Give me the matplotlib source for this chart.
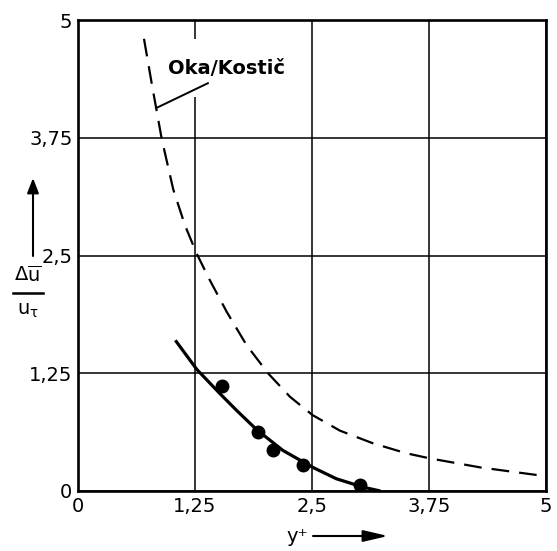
import matplotlib
matplotlib.use("Agg")
import matplotlib.pyplot as plt
from matplotlib.lines import Line2D

# ---- data ----
oka_x = [0.705, 0.787, 0.894, 1.018, 1.143, 1.268, 1.41, 1.59, 1.80, 2.03, 2.265,
         2.507, 2.80, 3.155, 3.51, 3.76, 4.30, 4.90]
oka_y = [4.80, 4.33, 3.74, 3.20, 2.82, 2.52, 2.235, 1.90, 1.55, 1.25, 1.00,
         0.805, 0.64, 0.505, 0.40, 0.346, 0.25, 0.17]

fit_x = [1.04, 1.27, 1.52, 1.70, 1.91, 2.19, 2.51, 2.76, 3.05, 3.23]
fit_y = [1.60, 1.29, 1.03, 0.85, 0.65, 0.43, 0.25, 0.13, 0.04, 0.0]

pts_x = [1.54, 1.92, 2.08, 2.40, 3.01]
pts_y = [1.11, 0.63, 0.44, 0.28, 0.06]

ticks = [0, 1.25, 2.5, 3.75, 5]
tick_labels = ["0", "1,25", "2,5", "3,75", "5"]
curve_label = "Oka/Kostič"

plt.rcParams['font.family'] = ['DejaVu Sans']
plt.rcParams['mathtext.fontset'] = 'dejavusans'

fig = plt.figure(figsize=(5.57, 5.51), dpi=100)
ax = fig.add_axes([78/557, 1 - 491/551, 468/557, 471/551])

ax.set_xlim(0, 5)
ax.set_ylim(0, 5)
ax.set_xticks(ticks)
ax.set_yticks(ticks)
ax.set_xticklabels(tick_labels, fontsize=14)
ax.set_yticklabels(tick_labels, fontsize=14)
ax.tick_params(length=0, pad=4)
ax.grid(True, color='black', linewidth=1.1, zorder=0)
ax.set_axisbelow(True)
for s in ax.spines.values():
    s.set_linewidth(1.9)
    s.set_zorder(5)

ax.plot(oka_x, oka_y, color='black', lw=1.6, dashes=(8, 4.5), zorder=3)
ax.plot(fit_x, fit_y, color='black', lw=2.3, zorder=3, solid_capstyle='butt')
ax.plot(pts_x, pts_y, 'o', color='black', ms=9, zorder=4)

# curve label with white background (interrupts grid line)
ax.text(1.59, 4.49, curve_label, fontsize=14, fontweight='bold', ha='center', va='center',
        zorder=2, bbox=dict(facecolor='white', edgecolor='none', boxstyle='square,pad=1.0'))
ax.annotate('', xy=(0.845, 4.07), xytext=(1.39, 4.33),
            arrowprops=dict(arrowstyle='-', lw=1.4, color='black', shrinkA=0, shrinkB=0),
            zorder=4)

W, H = 557, 551
def fx(px): return px / W
def fy(py): return 1 - py / H

# y-axis label: arrow + fraction
fig.add_artist(matplotlib.patches.FancyArrowPatch(
    (fx(33), fy(256)), (fx(33), fy(178)), transform=fig.transFigure,
    arrowstyle='-|>,head_length=9,head_width=3.5', lw=1.5, color='black',
    shrinkA=0, shrinkB=0, mutation_scale=1))
fig.text(fx(28), fy(275), r'$\Delta\overline{\mathrm{u}}$', fontsize=14,
         ha='center', va='center')
fig.add_artist(Line2D([fx(13), fx(43)], [fy(293), fy(293)], transform=fig.transFigure,
                      color='black', lw=1.8))
fig.text(fx(28), fy(310), r'$\mathrm{u_{\tau}}$', fontsize=14, ha='center', va='center')

# x-axis label: y+ and arrow
fig.text(fx(297), fy(537), 'y⁺', fontsize=14, ha='center', va='center')
fig.add_artist(matplotlib.patches.FancyArrowPatch(
    (fx(313), fy(536)), (fx(388), fy(536)), transform=fig.transFigure,
    arrowstyle='-|>,head_length=15,head_width=3.5', lw=1.5, color='black',
    shrinkA=0, shrinkB=0, mutation_scale=1))

fig.savefig('out.png', dpi=100)
